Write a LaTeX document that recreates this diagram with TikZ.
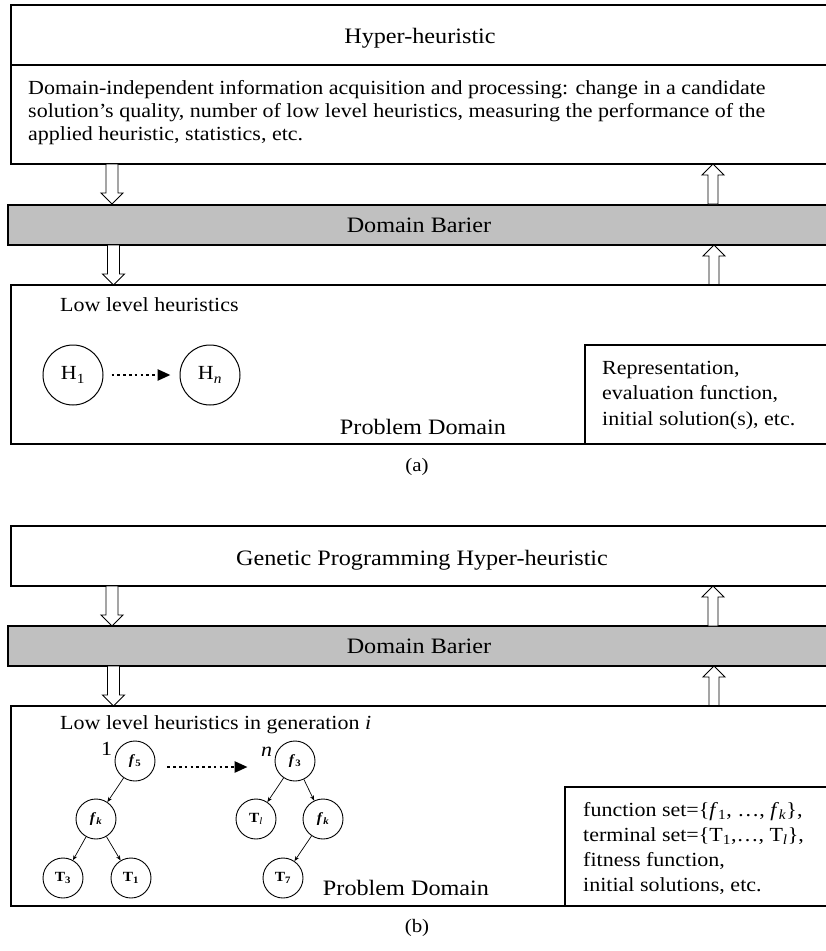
\documentclass[tikz,border=0pt]{standalone}
\usepackage{fontspec}
\setmainfont{Liberation Serif}[FakeStretch=1.1]
\usetikzlibrary{arrows.meta}
\definecolor{bargray}{RGB}{192,192,192}
\tikzset{
  boxframe/.style={draw, line width=1.3pt},
  barbox/.style={draw, line width=1.3pt, fill=bargray},
  bodytxt/.style={font=\fontsize{20}{23}\selectfont, anchor=base west, inner sep=0pt},
  bigtxt/.style={font=\fontsize{22}{26}\selectfont, anchor=base, inner sep=0pt},
  captxt/.style={font=\fontsize{19}{21}\selectfont, anchor=base, inner sep=0pt},
  hcirc/.style={draw, circle, line width=1pt, minimum size=60pt, inner sep=0pt, font=\fontsize{20}{23}\selectfont},
  tcirc/.style={draw, circle, line width=0.9pt, minimum size=40pt, inner sep=0pt, font=\fontsize{14}{16}\selectfont\bfseries},
  dotarrow/.style={line width=2.6pt, dash pattern=on 2.6pt off 3.2pt, -{Triangle[length=13pt,width=11pt]}},
  treearrow/.style={line width=0.7pt, -{Stealth[length=5pt,width=4pt]}},
  hollowarr/.style={draw, fill=white, line width=0.9pt},
  downarr/.pic={\path[hollowarr] (-6,0) -- (-6,29) -- (-11,29) -- (0,40) -- (11,29) -- (6,29) -- (6,0) -- cycle;},
  uparr/.pic={\path[hollowarr] (0,0) -- (-11,11) -- (-5,11) -- (-5,40) -- (5,40) -- (5,11) -- (11,11) -- cycle;},
}
\begin{document}
\begin{tikzpicture}[x=1pt,y=-1pt]
\useasboundingbox (0,0) rectangle (826,951);
% ---------------- (a)
\draw[boxframe] (11,5) rectangle (840,164);
\draw[boxframe] (11,65) -- (840,65);
\node[bigtxt] (hhtitle) at (420,43) {Hyper-heuristic};
\node[bodytxt] (hhl1) at (28,94) {Domain-independent information acquisition and processing: change in a candidate};
\node[bodytxt] (hhl2) at (28,117) {solution’s quality, number of low level heuristics, measuring the performance of the};
\node[bodytxt] (hhl3) at (28,140) {applied heuristic, statistics, etc.};
\draw[barbox] (8,205) rectangle (840,245);
\node[bigtxt] (bar1) at (419,232) {Domain Barier};
\pic at (112,164) {downarr};
\pic at (113.5,245) {downarr};
\pic at (713,164) {uparr};
\pic at (714,245) {uparr};
\draw[boxframe] (11,285) rectangle (840,444);
\node[bodytxt] (llh) at (60,311) {Low level heuristics};
\node[hcirc] (h1) at (73,375) {H\textsubscript{1}};
\node[hcirc] (hn) at (210,375) {H\textsubscript{\textit{n}}};
\draw[dotarrow, shorten <=8pt, shorten >=9pt] (h1) -- (hn);
\draw[boxframe, line width=1.1pt] (585,345) rectangle (840,444);
\node[bodytxt] (rep1) at (602,374) {Representation,};
\node[bodytxt] (rep2) at (602,399.5) {evaluation function,};
\node[bodytxt] (rep3) at (602,425) {initial solution(s), etc.};
\node[bigtxt] (pd1) at (423,434) {Problem Domain};
\node[captxt] (capa) at (417,471) {(a)};
% ---------------- (b)
\draw[boxframe] (11,526) rectangle (840,586);
\node[bigtxt] (gptitle) at (422,565) {Genetic Programming Hyper-heuristic};
\draw[barbox] (8,626) rectangle (840,666);
\node[bigtxt] (bar2) at (419,653) {Domain Barier};
\pic at (112,586) {downarr};
\pic at (113.5,666) {downarr};
\pic at (713,586) {uparr};
\pic at (714,666) {uparr};
\draw[boxframe] (11,706) rectangle (840,906);
\node[bodytxt] (llhg) at (60,729) {Low level heuristics in generation \textit{i}};
% tree 1
\node[tcirc] (fa) at (135,761) {\textit{f}\textsubscript{5}};
\node[tcirc] (fb) at (96,819) {\textit{f}\textsubscript{\textit{k}}};
\node[tcirc] (ta) at (63,878) {T\textsubscript{3}};
\node[tcirc] (tb) at (131,878) {T\textsubscript{1}};
\draw[treearrow] (fa) -- (fb);
\draw[treearrow] (fb) -- (ta);
\draw[treearrow] (fb) -- (tb);
% tree n
\node[tcirc] (fc) at (295,761) {\textit{f}\textsubscript{3}};
\node[tcirc] (tc) at (256,819) {T\textsubscript{\textit{\mdseries l}}};
\node[tcirc] (fd) at (323,819) {\textit{f}\textsubscript{\textit{k}}};
\node[tcirc] (td) at (283,878) {T\textsubscript{7}};
\draw[treearrow] (fc) -- (tc);
\draw[treearrow] (fc) -- (fd);
\draw[treearrow] (fd) -- (td);
\node[bodytxt] (one) at (101,755) {1};
\node[bodytxt] (nn) at (261,756) {\textit{n}};
\draw[dotarrow] ([xshift=12pt,yshift=-6pt]fa.east) -- ([xshift=-27pt,yshift=-6pt]fc.west);
\draw[boxframe, line width=1.1pt] (565,787) rectangle (840,906);
\node[bodytxt] (fs1) at (583,816) {function set=\{\textit{f}\textsubscript{1}, …, \textit{f}\textsubscript{\textit{k}}\},};
\node[bodytxt] (fs2) at (583,841) {terminal set=\{T\textsubscript{1},…, T\textsubscript{\textit{l}}\},};
\node[bodytxt] (fs3) at (583,866) {fitness function,};
\node[bodytxt] (fs4) at (583,891) {initial solutions, etc.};
\node[bigtxt] (pd2) at (406,895) {Problem Domain};
\node[captxt] (capb) at (417,932) {(b)};
\end{tikzpicture}
\end{document}
